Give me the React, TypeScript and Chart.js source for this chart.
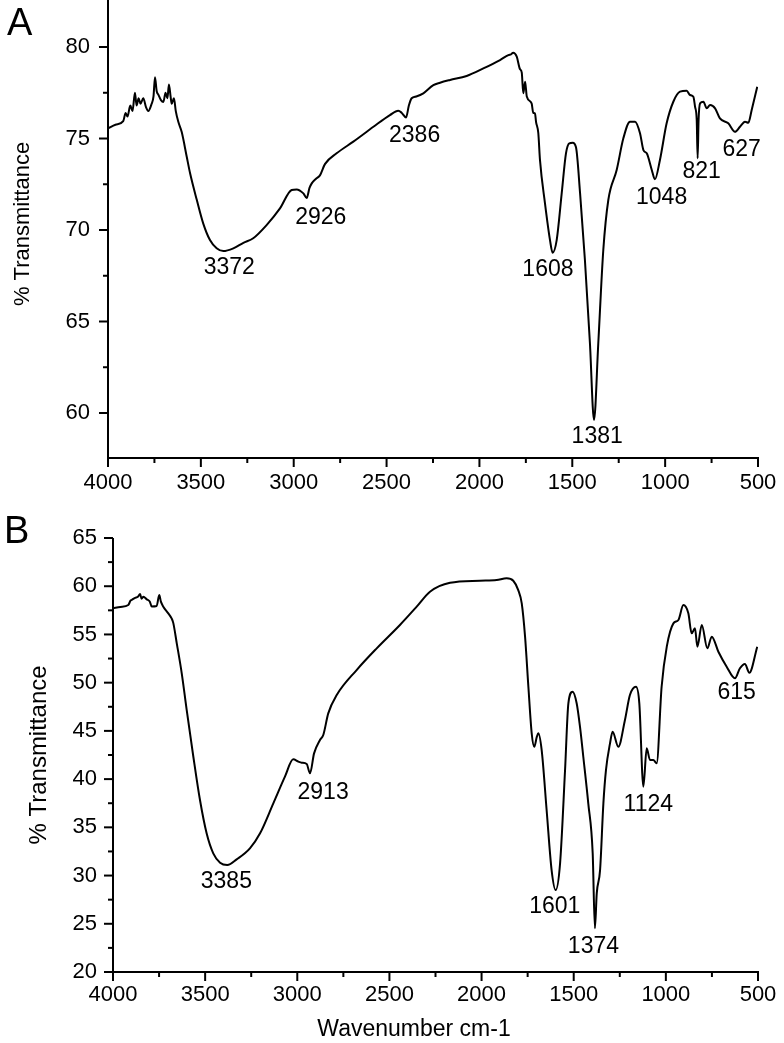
import React, { useEffect, useRef } from "react";
import { Chart, registerables } from "chart.js";
Chart.register(...registerables);

// ---------- Panel A data ----------
const wnA = [4000, 3960, 3918, 3905, 3895, 3880, 3868, 3855, 3846, 3835, 3825, 3810, 3795, 3783, 3765, 3755, 3747, 3738, 3729, 3715, 3702, 3690, 3680, 3672, 3663, 3657, 3645, 3635, 3621, 3603, 3576, 3558, 3522, 3487, 3451, 3415, 3379, 3325, 3271, 3218, 3146, 3074, 3011, 2984, 2948, 2930, 2915, 2903, 2880, 2858, 2832, 2769, 2679, 2571, 2482, 2437, 2419, 2395, 2380, 2365, 2340, 2302, 2248, 2212, 2158, 2069, 1979, 1889, 1844, 1830, 1818, 1799, 1782, 1772, 1764, 1754, 1745, 1719, 1710, 1701, 1695, 1683, 1674, 1647, 1620, 1606, 1584, 1557, 1534, 1516, 1498, 1480, 1458, 1432, 1405, 1383, 1360, 1333, 1306, 1261, 1225, 1189, 1162, 1135, 1117, 1099, 1072, 1055, 1028, 992, 956, 920, 884, 866, 848, 839, 830, 825, 820, 812, 794, 776, 758, 731, 705, 660, 624, 597, 570, 552, 534, 504];
const tA = [75.55, 75.75, 75.95, 76.4, 76.2, 76.8, 76.5, 77.5, 76.8, 77.2, 76.9, 77.2, 76.7, 76.5, 76.9, 77.3, 78.35, 77.6, 77.4, 77.1, 77.0, 77.5, 77.2, 77.95, 77.3, 76.9, 77.2, 76.5, 75.9, 75.35, 74.0, 73.1, 71.65, 70.35, 69.45, 69.0, 68.85, 69.0, 69.3, 69.55, 70.27, 71.18, 72.19, 72.22, 72.0, 71.75, 72.3, 72.55, 72.8, 73.0, 73.6, 74.19, 74.83, 75.64, 76.28, 76.52, 76.41, 76.15, 76.8, 77.2, 77.3, 77.47, 77.92, 78.05, 78.2, 78.42, 78.83, 79.29, 79.56, 79.6, 79.69, 79.47, 78.8, 78.6, 77.47, 78.1, 77.3, 76.92, 76.4, 76.38, 75.9, 75.3, 73.83, 71.46, 69.45, 68.76, 69.45, 72.0, 74.19, 74.74, 74.77, 74.52, 72.0, 68.36, 63.81, 59.62, 63.81, 68.91, 71.64, 73.28, 75.01, 75.92, 75.92, 75.28, 74.37, 74.19, 73.28, 72.77, 73.83, 75.83, 77.01, 77.56, 77.61, 77.38, 77.28, 76.74, 76.01, 73.92, 76.0, 76.92, 77.01, 76.65, 76.83, 76.65, 76.1, 75.83, 75.37, 75.64, 75.92, 75.86, 76.56, 77.83];
const yTicksA = [60, 62.5, 65, 67.5, 70, 72.5, 75, 77.5, 80];
const peakTextA = ["3372", "2926", "2386", "1608", "1381", "1048", "821", "627"];
const peakWnA = [3347, 2854, 2349, 1631, 1366, 1019, 803, 588];
const peakTA = [67.92, 70.67, 75.16, 67.84, 58.73, 71.79, 73.21, 74.39];

// ---------- Panel B data ----------
const wnB = [4000, 3960, 3917, 3905, 3899, 3880, 3865, 3853, 3845, 3835, 3817, 3800, 3790, 3763, 3749, 3740, 3727, 3700, 3682, 3673, 3654, 3627, 3600, 3564, 3528, 3492, 3456, 3419, 3380, 3329, 3257, 3202, 3130, 3067, 3022, 2994, 2976, 2949, 2931, 2909, 2877, 2859, 2832, 2786, 2678, 2569, 2443, 2352, 2280, 2171, 2009, 1918, 1864, 1828, 1801, 1782, 1764, 1746, 1728, 1714, 1700, 1692, 1674, 1647, 1620, 1598, 1574, 1547, 1529, 1506, 1484, 1466, 1448, 1421, 1397, 1385, 1375, 1357, 1339, 1325, 1303, 1289, 1258, 1222, 1195, 1162, 1144, 1122, 1104, 1086, 1068, 1050, 1023, 995, 959, 932, 905, 878, 860, 842, 829, 805, 775, 751, 715, 670, 625, 598, 571, 547, 504];
const tB = [57.71, 57.85, 58.05, 58.5, 58.57, 58.8, 58.9, 59.2, 58.7, 58.9, 58.64, 58.4, 57.9, 57.95, 59.1, 58.4, 57.88, 57.19, 56.67, 56.2, 54.08, 50.97, 47.16, 42.32, 37.83, 34.38, 32.3, 31.33, 31.09, 31.68, 32.82, 34.38, 37.49, 40.25, 42.05, 41.81, 41.7, 41.57, 40.6, 42.67, 44.05, 44.57, 46.82, 48.72, 51.31, 53.56, 55.98, 57.88, 59.43, 60.36, 60.57, 60.64, 60.82, 60.57, 59.6, 58.22, 54.77, 49.58, 44.75, 43.36, 44.4, 44.75, 43.02, 36.8, 30.57, 28.5, 31.27, 40.94, 47.86, 49.06, 47.86, 45.43, 42.32, 37.49, 32.3, 24.53, 28.16, 30.57, 37.49, 40.94, 43.71, 44.92, 43.36, 46.13, 48.72, 49.58, 47.86, 39.22, 43.19, 41.98, 41.98, 41.64, 49.58, 53.73, 56.15, 56.5, 58.05, 57.19, 55.12, 55.64, 53.73, 55.98, 53.56, 54.77, 53.21, 51.66, 50.45, 51.49, 51.94, 51.03, 53.73];
const yTicksB = [20, 22.5, 25, 27.5, 30, 32.5, 35, 37.5, 40, 42.5, 45, 47.5, 50, 52.5, 55, 57.5, 60, 62.5, 65];
const peakTextB = ["3385", "2913", "1601", "1374", "1124", "615"];
const peakWnB = [3385, 2860, 1603, 1393, 1095, 616];
const peakTB = [29.36, 38.58, 26.82, 22.67, 37.37, 48.93];

const xTickValues = [500, 750, 1000, 1250, 1500, 1750, 2000, 2250, 2500, 2750, 3000, 3250, 3500, 3750, 4000];

const FONT = '"Liberation Sans", Arial, Helvetica, sans-serif';
const INK = "#000";

const decorPlugin = {
  id: "decor",
  afterDraw(chart: any, _args: any, o: any) {
    const ctx = chart.ctx as CanvasRenderingContext2D;
    const xs = chart.scales.x;
    const ys = chart.scales.y;
    const { left, right, top, bottom } = chart.chartArea;
    ctx.save();
    ctx.strokeStyle = INK;
    ctx.fillStyle = INK;
    ctx.lineWidth = 2;
    ctx.beginPath();
    ctx.moveTo(left, top);
    ctx.lineTo(left, bottom);
    ctx.lineTo(right + 1, bottom);
    ctx.stroke();
    for (const v of xTickValues) {
      const px = xs.getPixelForValue(v);
      const len = v % 500 === 0 ? 9 : 5;
      ctx.beginPath();
      ctx.moveTo(px, bottom);
      ctx.lineTo(px, bottom + len);
      ctx.stroke();
    }
    for (const v of o.yTicks as number[]) {
      const py = ys.getPixelForValue(v);
      const len = v % 5 === 0 ? 9 : 5;
      ctx.beginPath();
      ctx.moveTo(left, py);
      ctx.lineTo(left - len, py);
      ctx.stroke();
    }
    ctx.font = `${o.peakSize}px ${FONT}`;
    ctx.textAlign = "center";
    ctx.textBaseline = "middle";
    (o.peakText as string[]).forEach((s, i) => {
      ctx.fillText(s, xs.getPixelForValue(o.peakWn[i]), ys.getPixelForValue(o.peakT[i]));
    });
    ctx.save();
    ctx.font = `${o.yTitleSize}px ${FONT}`;
    ctx.translate(o.yTitleX, o.yTitleY);
    ctx.rotate(-Math.PI / 2);
    ctx.fillText("% Transmittance", 0, 0);
    ctx.restore();
    if (o.xTitle) {
      ctx.font = `${o.xTitleSize}px ${FONT}`;
      ctx.fillText(o.xTitle, o.xTitleX, o.xTitleY);
    }
    ctx.font = `${o.letterSize}px ${FONT}`;
    ctx.textAlign = "left";
    ctx.textBaseline = "alphabetic";
    ctx.fillText(o.letter, o.letterX, o.letterY);
    ctx.restore();
  },
};

function buildConfig(p: any) {
  return {
    type: "line",
    data: {
      datasets: [
        {
          data: p.wn.map((x: number, i: number) => ({ x, y: p.t[i] })),
          borderColor: INK,
          borderWidth: 2,
          pointRadius: 0,
          fill: false,
          cubicInterpolationMode: "monotone",
        },
      ],
    },
    options: {
      animation: false,
      responsive: false,
      events: [],
      layout: { padding: { left: 0, top: p.padTop, right: 26, bottom: 0 } },
      plugins: {
        legend: { display: false },
        tooltip: { enabled: false },
        decor: p.decor,
      },
      scales: {
        x: {
          type: "linear",
          reverse: true,
          min: 500,
          max: 4000,
          grid: { display: false, drawTicks: false },
          border: { display: false },
          ticks: {
            stepSize: 500,
            padding: p.xPad,
            color: INK,
            font: { family: FONT, size: 22 },
            maxRotation: 0,
            autoSkip: false,
            callback: (v: any) => String(v),
          },
          afterFit: (s: any) => {
            s.height = p.xHeight;
            s.paddingLeft = 0;
            s.paddingRight = 0;
            s.paddingTop = 0;
            s.paddingBottom = 0;
          },
        },
        y: {
          type: "linear",
          min: p.yMin,
          max: p.yMax,
          grid: { display: false, drawTicks: false },
          border: { display: false },
          ticks: {
            padding: p.yPad,
            color: INK,
            font: { family: FONT, size: 22 },
            callback: (v: any) => (Number(v) % 5 === 0 ? String(v) : ""),
          },
          afterBuildTicks: (s: any) => {
            s.ticks = p.yTicks.filter((v: number) => v % 5 === 0).map((v: number) => ({ value: v }));
          },
          afterFit: (s: any) => {
            s.width = p.yWidth;
            s.paddingLeft = 0;
            s.paddingRight = 0;
            s.paddingTop = 0;
            s.paddingBottom = 0;
          },
        },
      },
    },
    plugins: [decorPlugin],
  };
}

export default function App() {
  const refA = useRef<HTMLCanvasElement>(null);
  const refB = useRef<HTMLCanvasElement>(null);

  useEffect(() => {
    const chartA = new Chart(
      refA.current as HTMLCanvasElement,
      buildConfig({
        wn: wnA,
        t: tA,
        padTop: 0,
        xHeight: 62,
        xPad: 12,
        yPad: 18,
        yWidth: 108,
        yMin: 57.54,
        yMax: 82.57,
        yTicks: yTicksA,
        decor: {
          yTicks: yTicksA,
          peakText: peakTextA,
          peakWn: peakWnA,
          peakT: peakTA,
          peakSize: 23,
          yTitleX: 23,
          yTitleY: 224,
          yTitleSize: 22,
          letter: "A",
          letterX: 7,
          letterY: 35,
          letterSize: 38,
        },
      }) as any
    );
    const chartB = new Chart(
      refB.current as HTMLCanvasElement,
      buildConfig({
        wn: wnB,
        t: tB,
        padTop: 38,
        xHeight: 71,
        xPad: 10,
        yPad: 16,
        yWidth: 113,
        yMin: 20,
        yMax: 65,
        yTicks: yTicksB,
        decor: {
          yTicks: yTicksB,
          peakText: peakTextB,
          peakWn: peakWnB,
          peakT: peakTB,
          peakSize: 23,
          yTitleX: 39,
          yTitleY: 255,
          yTitleSize: 24,
          xTitle: "Wavenumber cm-1",
          xTitleX: 414,
          xTitleY: 530,
          xTitleSize: 23,
          letter: "B",
          letterX: 4,
          letterY: 43,
          letterSize: 38,
        },
      }) as any
    );
    return () => {
      chartA.destroy();
      chartB.destroy();
    };
  }, []);

  return (
    <div
      style={{
        position: "absolute",
        left: 0,
        top: 0,
        width: 784,
        height: 1043,
        overflow: "hidden",
        background: "#fff",
      }}
    >
      <canvas
        ref={refA}
        width={784}
        height={520}
        style={{ position: "absolute", left: 0, top: 0, width: 784, height: 520 }}
      />
      <canvas
        ref={refB}
        width={784}
        height={543}
        style={{ position: "absolute", left: 0, top: 500, width: 784, height: 543 }}
      />
    </div>
  );
}
